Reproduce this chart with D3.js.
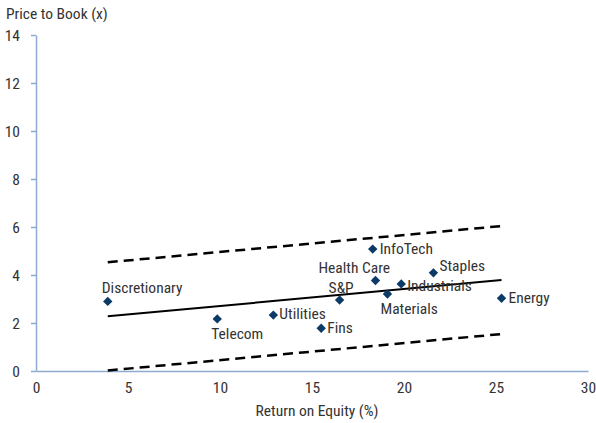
<!DOCTYPE html>
<html>
<head>
<meta charset="utf-8">
<script src="https://cdn.jsdelivr.net/npm/d3@7"></script>
<style>
  html, body { margin: 0; padding: 0; background: #fff; }
  svg text { font-family: Roboto, sans-serif; font-stretch: condensed; font-size: 15.5px; fill: #333; }
</style>
</head>
<body>
<svg id="chart" width="596" height="423"></svg>
<script>
// ---- data ----
const sectors = ["Discretionary", "Telecom", "Utilities", "Fins", "S&P", "Health Care", "InfoTech", "Materials", "Industrials", "Staples", "Energy"];
const roe =     [3.9, 9.85, 12.9, 15.5, 16.5, 18.45, 18.3, 19.1, 19.85, 21.6, 25.3];
const pb =      [2.9, 2.17, 2.33, 1.78, 2.96, 3.77, 5.08, 3.21, 3.63, 4.09, 3.03];
const fitX = [3.9, 25.3];
const fitY = [2.28, 3.79];
const upperY = [4.53, 6.04];
const lowerY = [0.02, 1.54];
const xTicks = [0, 5, 10, 15, 20, 25, 30];
const yTicks = [0, 2, 4, 6, 8, 10, 12, 14];
const xTitle = "Return on Equity (%)";
const yTitle = "Price to Book (x)";

// ---- layout (label placement relative to marker, px) ----
const labelLayout = {
  "Discretionary": {dx: -6, dy: -8},
  "Telecom": {dx: -6, dy: 20},
  "Utilities": {dx: 6, dy: 4},
  "Fins": {dx: 6, dy: 5},
  "S&P": {dx: -11, dy: -7},
  "Health Care": {dx: -57, dy: -8},
  "InfoTech": {dx: 7, dy: 5},
  "Materials": {dx: -7, dy: 20},
  "Industrials": {dx: 6, dy: 7},
  "Staples": {dx: 6, dy: -2},
  "Energy": {dx: 7, dy: 5}
};

const svg = d3.select("#chart");
const x = d3.scaleLinear().domain([0, 30]).range([36, 588]);
const y = d3.scaleLinear().domain([0, 14]).range([371, 35]);
const axisColor = "#8eaad0";

// y axis
const yAxis = svg.append("g").attr("transform", `translate(${x(0)},0)`)
  .call(d3.axisLeft(y).tickValues(yTicks).tickFormat(d3.format("d")).tickSize(5).tickPadding(11).tickSizeOuter(0));
yAxis.attr("font-family", null).attr("font-size", null);
yAxis.select(".domain").attr("stroke", axisColor).attr("stroke-width", 1.5);
yAxis.selectAll(".tick line").attr("stroke", axisColor).attr("stroke-width", 1.5);
yAxis.selectAll(".tick text").attr("fill", null).attr("dy", "0.36em");

// x axis
const xAxis = svg.append("g").attr("transform", `translate(0,${y(0)})`)
  .call(d3.axisBottom(x).tickValues(xTicks).tickFormat(d3.format("d")).tickSize(0).tickPadding(11).tickSizeOuter(0));
xAxis.attr("font-family", null).attr("font-size", null);
xAxis.select(".domain").attr("stroke", axisColor).attr("stroke-width", 1.5);
xAxis.selectAll(".tick text").attr("fill", null);

// titles
svg.append("text").attr("x", 6).attr("y", 19).text(yTitle);
svg.append("text").attr("x", (x(0) + x(30)) / 2 + 5).attr("y", 416).attr("text-anchor", "middle").text(xTitle);

// regression + bands
const line = d3.line().x(d => x(d[0])).y(d => y(d[1]));
svg.append("path").datum(fitX.map((v, i) => [v, fitY[i]])).attr("d", line)
  .attr("fill", "none").attr("stroke", "#000").attr("stroke-width", 2);
[upperY, lowerY].forEach(arr => {
  svg.append("path").datum(fitX.map((v, i) => [v, arr[i]])).attr("d", line)
    .attr("fill", "none").attr("stroke", "#000").attr("stroke-width", 2.5).attr("stroke-dasharray", "10,6");
});

// points
const pts = sectors.map((s, i) => ({name: s, x: roe[i], y: pb[i]}));
const diamond = d3.symbol().type(d3.symbolSquare).size(44);
svg.append("g").selectAll("path").data(pts).join("path")
  .attr("d", diamond)
  .attr("transform", d => `translate(${x(d.x)},${y(d.y)}) rotate(45)`)
  .attr("fill", "#0b3a66");

// labels
svg.append("g").selectAll("text").data(pts).join("text")
  .attr("x", d => x(d.x) + labelLayout[d.name].dx)
  .attr("y", d => y(d.y) + labelLayout[d.name].dy)
  .text(d => d.name);
</script>
</body>
</html>
